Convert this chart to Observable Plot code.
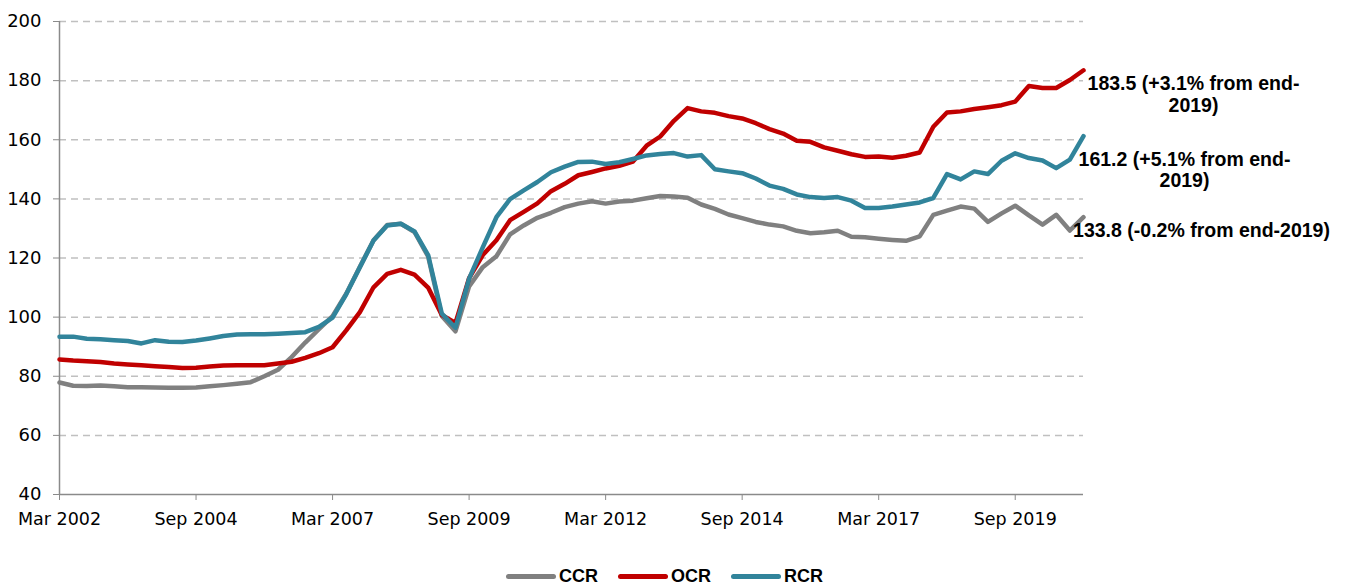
<!DOCTYPE html>
<html>
<head>
<meta charset="utf-8">
<script src="https://cdn.jsdelivr.net/npm/d3@7"></script>
<script src="https://cdn.jsdelivr.net/npm/@observablehq/plot@0.6"></script>
<style>
  body { margin: 0; background: #fff; font-family: "Liberation Sans", Arial, sans-serif; }
  #wrap { position: relative; width: 1346px; height: 584px; overflow: hidden; }
  #legend { position: absolute; left: 506px; top: 564px; height: 24px; display: flex; align-items: center; font-weight: bold; font-size: 18px; color: #000; }
  .item { display: flex; align-items: center; margin-right: 20px; }
  .sw { width: 50px; height: 5px; border-radius: 3px; margin-right: 3px; }
</style>
</head>
<body>
<div id="wrap"><div id="chart"></div><div id="legend"></div></div>
<script>
// Quarterly index, Mar 2002 .. Dec 2020
const seriesNames = ["CCR", "OCR", "RCR"];
const seriesColors = ["#808080", "#C00000", "#31849B"];

const ccr = [77.9, 76.8, 76.7, 76.9, 76.6, 76.3, 76.3, 76.2, 76.1, 76.1,
  76.2, 76.6, 77.0, 77.5, 78.0, 80.0, 82.2, 86.5, 91.4, 95.9,
  100.3, 107.9, 117.0, 126.0, 131.2, 131.6, 128.8, 120.5, 100.4, 95.2,
  110.4, 116.9, 120.6, 128.0, 131.0, 133.6, 135.3, 137.2, 138.4, 139.2,
  138.4, 139.1, 139.4, 140.2, 141.0, 140.8, 140.4, 138.1, 136.6, 134.7,
  133.5, 132.2, 131.3, 130.7, 129.2, 128.4, 128.7, 129.2, 127.2, 127.0,
  126.5, 126.1, 125.8, 127.3, 134.6, 136.0, 137.4, 136.7, 132.2, 135.1,
  137.7, 134.4, 131.3, 134.6, 129.3, 133.8];

const ocr = [85.7, 85.3, 85.1, 84.8, 84.3, 84.0, 83.7, 83.4, 83.1, 82.8,
  82.9, 83.3, 83.6, 83.7, 83.7, 83.7, 84.3, 84.9, 86.2, 87.8,
  89.8, 95.5, 101.7, 110.1, 114.6, 116.0, 114.4, 110.0, 100.7, 98.0,
  113.2, 121.0, 126.0, 132.8, 135.6, 138.5, 142.6, 145.1, 148.0, 149.1,
  150.3, 151.2, 152.6, 158.0, 161.1, 166.4, 170.7, 169.6, 169.1, 168.0,
  167.2, 165.6, 163.6, 162.1, 159.7, 159.3, 157.4, 156.3, 155.1, 154.2,
  154.3, 153.9, 154.6, 155.7, 164.4, 169.2, 169.6, 170.4, 171.0, 171.7,
  172.9, 178.2, 177.5, 177.5, 180.2, 183.5];

const rcr = [93.4, 93.4, 92.7, 92.5, 92.2, 91.9, 91.1, 92.2, 91.7, 91.6,
  92.1, 92.8, 93.6, 94.1, 94.2, 94.2, 94.4, 94.6, 94.9, 96.7,
  99.8, 107.7, 116.9, 125.9, 131.0, 131.6, 129.0, 121.0, 101.2, 96.4,
  113.0, 123.6, 133.8, 139.9, 142.9, 145.7, 149.0, 150.9, 152.5, 152.6,
  151.8, 152.4, 153.5, 154.7, 155.2, 155.5, 154.3, 154.8, 150.0, 149.3,
  148.7, 146.9, 144.5, 143.4, 141.5, 140.6, 140.3, 140.6, 139.4, 136.9,
  136.9, 137.4, 138.1, 138.8, 140.3, 148.4, 146.6, 149.3, 148.4, 152.9,
  155.4, 153.8, 153.0, 150.4, 153.3, 161.2];

const tickIndex = [0, 10, 20, 30, 40, 50, 60, 70];
const tickLabels = ["Mar 2002", "Sep 2004", "Mar 2007", "Sep 2009", "Mar 2012", "Sep 2014", "Mar 2017", "Sep 2019"];
const yTicks = [40, 60, 80, 100, 120, 140, 160, 180, 200];
const endLabels = ["133.8 (-0.2% from end-2019)", "183.5 (+3.1% from end-\n2019)", "161.2 (+5.1% from end-\n2019)"];

const values = [ccr, ocr, rcr];
const rows = seriesNames.flatMap((s, k) => values[k].map((v, i) => ({ series: s, i, v })));
const last = ccr.length - 1;

const FONT = "'Liberation Sans', Arial, sans-serif";
const TICKFONT = "'DejaVu Sans', sans-serif";

const endText = (k, dx, dy) => Plot.text([0], {
  x: [last], y: [values[k][last]], text: [endLabels[k]],
  dx, dy, textAnchor: "middle", lineAnchor: "middle", lineHeight: 1.08,
  fontSize: 19.5, fontWeight: "bold", fill: "#000", fontFamily: FONT
});

const chart = Plot.plot({
  width: 1346, height: 550,
  marginLeft: 59, marginRight: 263, marginTop: 21, marginBottom: 56,
  style: { fontFamily: FONT, fontSize: "18px", color: "#000", background: "#fff", overflow: "visible" },
  x: { type: "linear", domain: [0, last] },
  y: { domain: [40, 200] },
  color: { domain: seriesNames, range: seriesColors },
  marks: [
    Plot.ruleY(yTicks.filter(d => d > 40), { stroke: "#c0c0c0", strokeWidth: 1.5, strokeDasharray: "7,5" }),
    Plot.ruleX([0], { stroke: "#8a8a8a", strokeWidth: 1.5 }),
    Plot.ruleY([40], { stroke: "#8a8a8a", strokeWidth: 1.5 }),
    Plot.axisY({ ticks: yTicks, tickSize: 6, tickPadding: 12, stroke: "#8a8a8a", label: null,
      fontSize: 18, fontFamily: TICKFONT }),
    Plot.axisX({ ticks: tickIndex, tickSize: 6, tickPadding: 12, stroke: "#8a8a8a", label: null,
      fontSize: 17.5, fontFamily: TICKFONT, tickFormat: d => tickLabels[tickIndex.indexOf(d)] }),
    Plot.line(rows, { x: "i", y: "v", stroke: "series", z: "series", strokeWidth: 4.5,
      strokeLinejoin: "round", strokeLinecap: "round" }),
    endText(1, 110, 24),
    endText(2, 101, 34),
    endText(0, 118, 13)
  ]
});
document.getElementById("chart").appendChild(chart);

const legend = document.getElementById("legend");
seriesNames.forEach((s, k) => {
  const it = document.createElement("div");
  it.className = "item";
  it.innerHTML = `<span class="sw" style="background:${seriesColors[k]}"></span><span>${s}</span>`;
  legend.appendChild(it);
});
</script>
</body>
</html>
